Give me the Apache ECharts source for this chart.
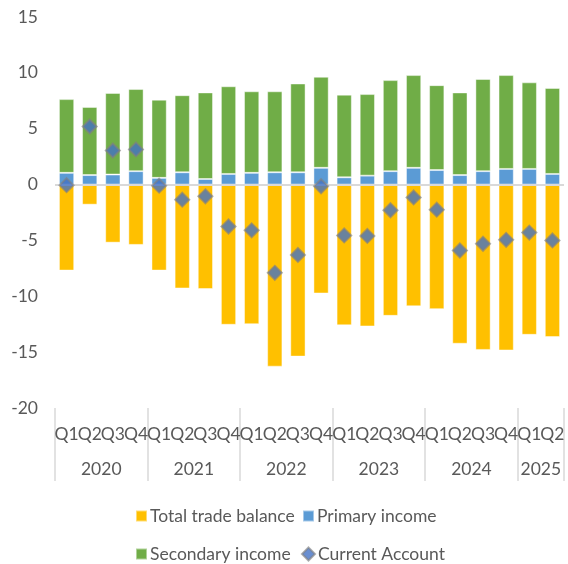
<!DOCTYPE html>
<html>
<head>
<meta charset="utf-8">
<script src="https://cdn.jsdelivr.net/npm/echarts@6/dist/echarts.min.js"></script>
<style>
    html, body {margin: 0; padding: 0; background: #fff;}
    #chart {width: 568px; height: 564px;}
</style>
</head>
<body>
<div id="chart"></div>
<script>
// 分类：季度和年份
var quarters = ['Q1', 'Q2', 'Q3', 'Q4', 'Q1', 'Q2', 'Q3', 'Q4', 'Q1', 'Q2', 'Q3', 'Q4',
    'Q1', 'Q2', 'Q3', 'Q4', 'Q1', 'Q2', 'Q3', 'Q4', 'Q1', 'Q2'];
var years = ['2020', '2021', '2022', '2023', '2024', '2025'];
var quartersInYear = [4, 4, 4, 4, 4, 2];

// 数值
var tradeBalance = [-7.7, -1.8, -5.2, -5.4, -7.7, -9.3, -9.35, -12.55, -12.5, -16.3, -15.4, -9.75,
    -12.6, -12.7, -11.75, -10.9, -11.15, -14.25, -14.8, -14.85, -13.45, -13.65];
var primaryIncome = [1.05, 0.85, 0.9, 1.2, 0.6, 1.1, 0.5, 0.95, 1.05, 1.1, 1.1, 1.5,
    0.65, 0.8, 1.2, 1.5, 1.3, 0.85, 1.2, 1.4, 1.4, 0.95];
var secondaryIncome = [6.6, 6.1, 7.3, 7.35, 7.0, 6.9, 7.75, 7.85, 7.3, 7.25, 7.95, 8.15,
    7.4, 7.3, 8.15, 8.3, 7.6, 7.4, 8.25, 8.4, 7.75, 7.7];
var currentAccount = [-0.05, 5.2, 3.05, 3.15, -0.1, -1.35, -1.05, -3.75, -4.1, -7.9, -6.3, -0.15,
    -4.55, -4.6, -2.3, -1.15, -2.25, -5.9, -5.3, -4.95, -4.3, -5.0];

// y轴刻度
var yMin = -20, yMax = 15, yStep = 5;

// 年份分组：分隔线位置和标签中心
var yearSeps = [0];
var yearCenters = [];
var start = 0;
for (var i = 0; i < years.length; i++) {
    yearCenters.push(start + quartersInYear[i] / 2);
    start += quartersInYear[i];
    yearSeps.push(start);
}

var textColor = '#595959';
var fontName = 'Lato';
var fontSize = 17.5;
var myChart = echarts.init(document.getElementById('chart'));

function legendItem(name, left, top, icon) {
    return {
        left: left,
        top: top,
        data: [{name: name, icon: icon}],
        itemWidth: icon === 'diamond' ? 13 : 11,
        itemHeight: icon === 'diamond' ? 13 : 11,
        itemGap: 0,
        textStyle: {color: textColor, fontSize: fontSize, fontFamily: fontName, padding: [0, 0, 0, -2]}
    };
}

var option = {
    animation: false,
    grid: {left: 55, right: 4, top: 17, bottom: 156},
    legend: [
        legendItem('Total trade balance', 130, 502, 'rect'),
        legendItem('Primary income', 297, 502, 'rect'),
        legendItem('Secondary income', 130, 540, 'rect'),
        legendItem('Current Account', 296, 540, 'diamond')
    ],
    xAxis: [
        {
            type: 'category',
            data: quarters,
            axisLine: {show: false},
            axisTick: {show: false},
            axisLabel: {
                interval: 0,
                hideOverlap: false,
                margin: 17,
                color: textColor,
                fontSize: fontSize,
                fontFamily: fontName
            }
        },
        {
            // 年份标签和分隔线
            type: 'value',
            position: 'bottom',
            min: 0,
            max: quarters.length,
            axisLine: {show: false},
            splitLine: {show: false},
            axisTick: {
                show: true,
                customValues: yearSeps,
                length: 73,
                lineStyle: {color: '#D9D9D9', width: 1.5}
            },
            axisLabel: {
                customValues: yearCenters,
                margin: 52,
                color: textColor,
                fontSize: fontSize,
                fontFamily: fontName,
                formatter: function (v) {
                    for (var k = 0; k < yearCenters.length; k++) {
                        if (Math.abs(yearCenters[k] - v) < 0.01) return years[k];
                    }
                    return '';
                }
            }
        }
    ],
    yAxis: {
        type: 'value',
        min: yMin,
        max: yMax,
        interval: yStep,
        axisLine: {show: false},
        axisTick: {show: false},
        splitLine: {show: false},
        axisLabel: {margin: 17, color: textColor, fontSize: fontSize, fontFamily: fontName}
    },
    series: [
        {
            name: 'Total trade balance',
            type: 'bar',
            stack: 'ca',
            barCategoryGap: '34%',
            data: tradeBalance,
            itemStyle: {color: '#FFC000', borderColor: 'rgba(255,255,255,0.45)', borderWidth: 1},
            markLine: {
                silent: true,
                symbol: 'none',
                label: {show: false},
                lineStyle: {color: '#D9D9D9', type: 'solid', width: 2},
                data: [{yAxis: 0}]
            }
        },
        {
            name: 'Primary income',
            type: 'bar',
            stack: 'ca',
            data: primaryIncome,
            itemStyle: {color: '#5B9BD5', borderColor: 'rgba(255,255,255,0.45)', borderWidth: 1}
        },
        {
            name: 'Secondary income',
            type: 'bar',
            stack: 'ca',
            data: secondaryIncome,
            itemStyle: {color: '#70AD47', borderColor: 'rgba(255,255,255,0.45)', borderWidth: 1}
        },
        {
            name: 'Current Account',
            type: 'scatter',
            symbol: 'diamond',
            symbolSize: 14,
            data: currentAccount,
            z: 5,
            itemStyle: {color: '#4472C4', borderColor: 'rgba(128,128,128,0.8)', borderWidth: 2}
        }
    ]
};

myChart.setOption(option);
</script>
</body>
</html>
